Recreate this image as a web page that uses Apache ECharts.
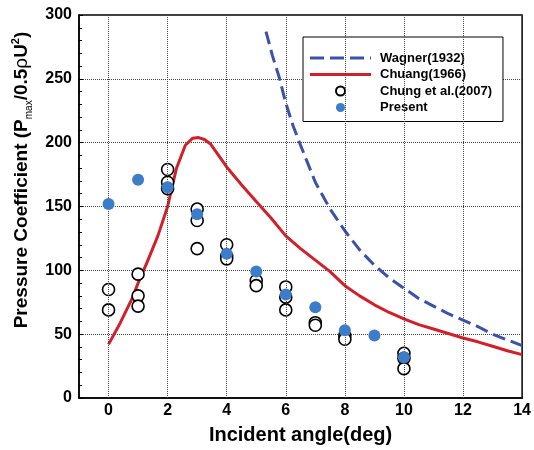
<!DOCTYPE html>
<html><head><meta charset="utf-8">
<script src="https://cdn.jsdelivr.net/npm/echarts@6/dist/echarts.min.js"></script>
<style>html,body{margin:0;padding:0;background:#fff}#c{width:534px;height:450px}</style>
</head><body><div id="c"></div>
<script>
const xGridValues = [0, 2, 4, 6, 8, 10, 12];
const xLabelValues = [0, 2, 4, 6, 8, 10, 12, 14];
const wagner = [[5.33,287],[5.55,268],[5.78,251],[6,231],[6.25,213],[6.5,198],[7,169],[7.5,148],[8,131],[8.5,116],[9,104],[9.5,94],[10,86],[10.5,78],[11,72],[11.5,66],[12,61],[12.5,56],[13,50],[13.5,45.5],[14,41]];
const chuang = [[0,42],[0.4,59],[0.8,78],[1,90],[1.3,106],[1.67,127],[2,150],[2.3,180],[2.6,198],[2.85,203.5],[3.05,204],[3.25,202.5],[3.45,199],[4,181],[4.5,167],[5,154],[5.5,141],[6,127],[6.5,117],[7,108],[7.5,99],[8,88],[8.5,80],[9,73],[9.5,67],[10,62],[10.5,57.5],[11,54],[11.5,50.5],[12,47],[12.5,44],[13,40.5],[13.5,37],[14,34]];
const chung = [[0,85],[0,69],[1,97],[1,80],[1,72],[2,179],[2,169],[2,164],[3,148],[3,139],[3,117],[4,120],[4,111],[4,109],[5,92],[5,88],[6,87],[6,79],[6,69],[7,59],[7,57],[8,49],[8,46],[10,35],[10,31],[10,23]];
const present = [[0,152],[1,171],[2,165],[3,144],[4,113],[5,99],[6,81],[7,71],[8,53],[9,49],[10,32]];

const FONT = 'Liberation Sans, Arial, sans-serif';
const BOX = 'M0,0 L0.001,0 L0,0.001 Z M61,9 L60.999,9 L61,8.999 Z ';
const solidIcon = 'path://' + BOX + 'M0,3 L61,3 L61,6 L0,6 Z';
const dashIcon = 'path://' + BOX + 'M0,3 L14,3 L14,6 L0,6 Z M20,3 L34,3 L34,6 L20,6 Z M40,3 L54,3 L54,6 L40,6 Z M60,3 L61,3 L61,6 L60,6 Z';

const chart = echarts.init(document.getElementById('c'), null, {renderer: 'canvas'});
chart.setOption({
  animation: false,
  backgroundColor: '#fff',
  grid: {left: 79, right: 11, top: 15, bottom: 48, show: true, borderColor: '#000', borderWidth: 1.5, backgroundColor: 'transparent'},
  xAxis: {
    type: 'value', min: -1, max: 14, interval: 1,
    name: 'Incident angle(deg)', nameLocation: 'middle', nameGap: 27,
    nameTextStyle: {fontFamily: FONT, fontWeight: 'bold', fontSize: 20, color: '#000'},
    axisLine: {show: true, onZero: false, lineStyle: {color: '#000', width: 1.5}},
    axisTick: {show: false},
    splitLine: {show: false},
    axisLabel: {
      fontFamily: FONT, fontWeight: 'bold', fontSize: 16, color: '#000', margin: 5,
      formatter: v => xLabelValues.indexOf(v) >= 0 ? String(v) : ''
    }
  },
  yAxis: {
    type: 'value', min: 0, max: 300, interval: 50,
    axisLine: {show: true, onZero: false, lineStyle: {color: '#000', width: 1.5}},
    axisTick: {show: true, inside: true, length: 4, lineStyle: {color: '#000'}},
    minorTick: {show: true, splitNumber: 5, length: 3, lineStyle: {color: '#000'}},
    splitLine: {show: true, lineStyle: {color: '#444', type: 'dotted', width: 1}},
    axisLabel: {fontFamily: FONT, fontWeight: 'bold', fontSize: 16, color: '#000', margin: 7}
  },
  legend: {
    data: [
      {name: 'Wagner(1932)', icon: dashIcon},
      {name: 'Chuang(1966)', icon: solidIcon},
      {name: 'Chung et al.(2007)'},
      {name: 'Present'}
    ],
    orient: 'vertical', left: 303, top: 37,
    padding: [13, 11, 6, 7],
    backgroundColor: '#fff', borderColor: '#000', borderWidth: 1,
    itemWidth: 61, itemHeight: 9, itemGap: 0.5,
    textStyle: {fontFamily: FONT, fontWeight: 'bold', fontSize: 13, color: '#000', lineHeight: 16, padding: [0, 0, 0, 4]}
  },
  graphic: [{
    type: 'text', x: 22, y: 180, rotation: Math.PI / 2,
    style: {
      text: '{b|Pressure Coefficient (P}{s|max}{b|/0.5}{r|ρ}{b|U}{p|2}{b|)}',
      align: 'center', verticalAlign: 'middle',
      rich: {
        b: {fontFamily: FONT, fontWeight: 'bold', fontSize: 19, lineHeight: 24, fill: '#000'},
        r: {fontFamily: FONT, fontWeight: 'normal', fontSize: 19, lineHeight: 24, fill: '#000'},
        s: {fontFamily: FONT, fontWeight: 'normal', fontSize: 10, lineHeight: 10, verticalAlign: 'bottom', fill: '#000'},
        p: {fontFamily: FONT, fontWeight: 'bold', fontSize: 11, lineHeight: 11, verticalAlign: 'top', fill: '#000'}
      }
    }
  }],
  series: [
    {
      name: 'gridx', type: 'scatter', data: [], z: 1, silent: true,
      markLine: {
        silent: true, symbol: ['none', 'none'], label: {show: false},
        lineStyle: {color: '#444', type: 'dotted', width: 1},
        data: xGridValues.map(v => ({xAxis: v}))
      }
    },
    {
      name: 'Wagner(1932)', type: 'line', data: wagner, symbol: 'none', smooth: false, z: 3,
      lineStyle: {color: '#3a52a8', width: 3, type: [13, 6]},
      itemStyle: {color: '#3a52a8'}
    },
    {
      name: 'Chuang(1966)', type: 'line', data: chuang, symbol: 'none', z: 3,
      lineStyle: {color: '#d1202a', width: 3},
      itemStyle: {color: '#d1202a'}
    },
    {
      name: 'Chung et al.(2007)', type: 'scatter', data: chung, symbol: 'circle', symbolSize: 12, z: 4,
      itemStyle: {color: '#fff', borderColor: '#000', borderWidth: 1.6, opacity: 1}
    },
    {
      name: 'Present', type: 'scatter', data: present, symbol: 'circle', symbolSize: 12, z: 5,
      itemStyle: {color: '#3d7cc9', opacity: 1}
    }
  ]
});
</script></body></html>
